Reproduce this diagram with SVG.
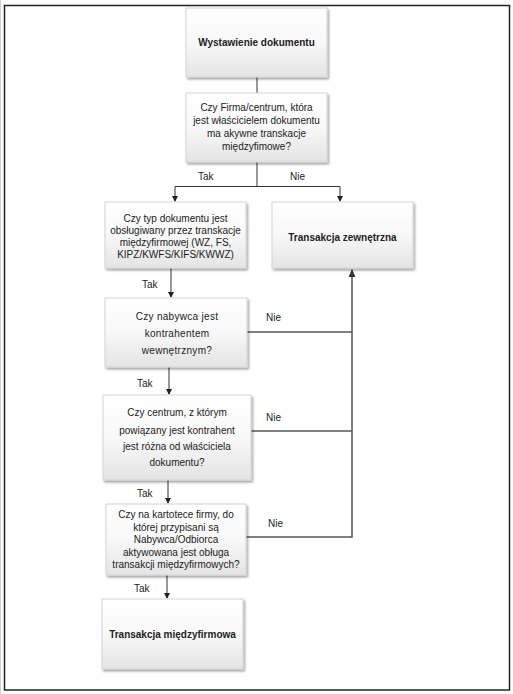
<svg xmlns="http://www.w3.org/2000/svg" width="513" height="694" viewBox="0 0 513 694">
<defs>
<linearGradient id="g" x1="0" y1="0" x2="0" y2="1">
<stop offset="0" stop-color="#ffffff"/>
<stop offset="0.5" stop-color="#f8f8f8"/>
<stop offset="1" stop-color="#e4e4e4"/>
</linearGradient>
<filter id="sh" x="-10%" y="-10%" width="125%" height="130%">
<feDropShadow dx="1.5" dy="2" stdDeviation="1.3" flood-color="#000" flood-opacity="0.35"/>
</filter>
<marker id="ah" markerWidth="6" markerHeight="6" refX="5" refY="3" orient="auto" markerUnits="userSpaceOnUse">
<path d="M0,0 L6,3 L0,6 z" fill="#222"/>
</marker>
<style>
.box{fill:url(#g);stroke:#d4d4d4;stroke-width:1;filter:url(#sh)}
.t{font-family:"Liberation Sans",Arial,sans-serif;font-size:10px;fill:#222;text-anchor:middle}
.b{font-weight:bold}
.lbl{font-family:"Liberation Sans",Arial,sans-serif;font-size:10px;fill:#222}
.c{fill:none;stroke:#333;stroke-width:1}
.cr{fill:none;stroke:#555;stroke-width:1.5}
</style>
</defs>
<rect x="0" y="0" width="513" height="694" fill="#fff"/>
<line x1="0.5" y1="0" x2="0.5" y2="694" stroke="#cfcfcf"/>
<rect x="4.5" y="5.5" width="505" height="684.5" fill="none" stroke="#222" stroke-width="1.5"/>

<g id="connectors">
<path class="c" d="M257,77 V93"/>
<path class="c" d="M257,162 V186.5 M175,186.5 H340"/>
<path class="c" d="M175,186.5 V201" marker-end="url(#ah)"/>
<path class="c" d="M340,186.5 V201" marker-end="url(#ah)"/>
<path class="c" d="M171,268 V297" marker-end="url(#ah)"/>
<path class="c" d="M169,367 V394" marker-end="url(#ah)"/>
<path class="c" d="M168,480 V503" marker-end="url(#ah)"/>
<path class="c" d="M167,575 V598" marker-end="url(#ah)"/>
<path class="cr" d="M247,332 H352 M251,431 H352 M246,537 H352 V270"/>
<path d="M348.5,277 L352,269 L355.5,277 z" fill="#333"/>
<text class="lbl" x="198" y="180">Tak</text>
<text class="lbl" x="290" y="180">Nie</text>
<text class="lbl" x="142" y="288">Tak</text>
<text class="lbl" x="266" y="321">Nie</text>
<text class="lbl" x="137" y="387">Tak</text>
<text class="lbl" x="266" y="421">Nie</text>
<text class="lbl" x="137" y="497">Tak</text>
<text class="lbl" x="268" y="527">Nie</text>
<text class="lbl" x="134" y="592">Tak</text>
</g>

<g id="n1">
<rect class="box" x="186" y="8" width="141" height="69"/>
<text class="t b" x="256.5" y="46">Wystawienie dokumentu</text>
</g>
<g id="n2">
<rect class="box" x="186" y="93" width="141" height="69"/>
<text class="t" x="256.5" y="111">Czy Firma/centrum, która</text>
<text class="t" x="256.5" y="124">jest właścicielem dokumentu</text>
<text class="t" x="256.5" y="137">ma akywne transkacje</text>
<text class="t" x="256.5" y="150">międzyfimowe?</text>
</g>
<g id="n3">
<rect class="box" x="105" y="202" width="141" height="66"/>
<text class="t" x="175.5" y="222">Czy typ dokumentu jest</text>
<text class="t" x="175.5" y="234">obsługiwany przez transkacje</text>
<text class="t" x="175.5" y="246">międzyfirmowej (WZ, FS,</text>
<text class="t" x="175.5" y="258">KIPZ/KWFS/KIFS/KWWZ)</text>
</g>
<g id="n4">
<rect class="box" x="272" y="202" width="141" height="66"/>
<text class="t b" x="342.5" y="241">Transakcja zewnętrzna</text>
</g>
<g id="n5">
<rect class="box" x="105" y="298" width="142" height="69"/>
<text class="t" x="177" y="320" letter-spacing="0.3">Czy nabywca jest</text>
<text class="t" x="177" y="337" letter-spacing="0.3">kontrahentem</text>
<text class="t" x="177" y="354" letter-spacing="0.3">wewnętrznym?</text>
</g>
<g id="n6">
<rect class="box" x="103" y="395" width="148" height="85"/>
<text class="t" x="177" y="416">Czy centrum, z którym</text>
<text class="t" x="177" y="434">powiązany jest kontrahent</text>
<text class="t" x="177" y="450">jest różna od właściciela</text>
<text class="t" x="177" y="466">dokumentu?</text>
</g>
<g id="n7">
<rect class="box" x="106" y="504" width="140" height="71"/>
<text class="t" x="176" y="518">Czy na kartotece firmy, do</text>
<text class="t" x="176" y="531">której przypisani są</text>
<text class="t" x="176" y="543">Nabywca/Odbiorca</text>
<text class="t" x="176" y="556">aktywowana jest obługa</text>
<text class="t" x="176" y="568">transakcji międzyfirmowych?</text>
</g>
<g id="n8">
<rect class="box" x="102" y="599" width="141" height="70"/>
<text class="t b" x="172.5" y="638">Transakcja międzyfirmowa</text>
</g>
</svg>
